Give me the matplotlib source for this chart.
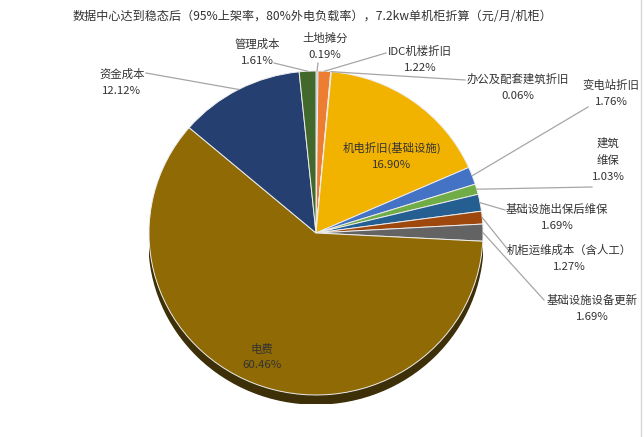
import numpy as np
import matplotlib
matplotlib.use("Agg")
import matplotlib.pyplot as plt
from matplotlib.patches import Ellipse

plt.rcParams['font.family'] = ['Noto Sans CJK SC', 'DejaVu Sans']

# cost items, clockwise from 12 o'clock
names = ["土地摊分", "IDC机楼折旧", "办公及配套建筑折旧", "机电折旧(基础设施)", "变电站折旧",
         "建筑\n维保", "基础设施出保后维保", "机柜运维成本（含人工）", "基础设施设备更新",
         "电费", "资金成本", "管理成本"]
shares = [0.19, 1.22, 0.06, 16.90, 1.76, 1.03, 1.69, 1.27, 1.69, 60.46, 12.12, 1.61]
colors = ['#5B9BD5', '#ED7D31', '#A5A5A5', '#F2B200', '#4472C4', '#70AD47',
          '#255E91', '#9E480E', '#636363', '#8F6A05', '#243F70', '#43682B']

title = "数据中心达到稳态后（95%上架率，80%外电负载率），7.2kw单机柜折算（元/月/机柜）"

# label block centres (px) and leader line ends (None = label inside slice)
label_xy = [(325, 46), (420, 59), (518, 87), (392, 156), (611, 93), (608, 160),
            (557, 217), (569, 258), (592, 308), (262, 357), (122, 82), (257, 52)]
line_end = [(318, 63), (386, 53), (465, 80), None, (588, 107), (592, 187),
            (505, 210), (509, 251), (544, 300), None, (146, 73), (274, 63)]

W, H = 644, 437
cx, cy, rx, ry = 316, 233, 167, 162

fig = plt.figure(figsize=(W / 100, H / 100), dpi=100)

# shadow under the pie
sh = fig.add_axes([(cx - rx) / W, (H - cy - ry - 9) / H, 2 * rx / W, 2 * ry / H])
sh.add_patch(Ellipse((0, 0), 2, 2, color='#3d2f08'))
sh.set_xlim(-1, 1)
sh.set_ylim(-1, 1)
sh.axis('off')

ax = fig.add_axes([(cx - rx) / W, (H - cy - ry) / H, 2 * rx / W, 2 * ry / H])
wedges, _ = ax.pie(shares, colors=colors, startangle=90, counterclock=False, radius=1,
                   wedgeprops=dict(edgecolor='#eeeeee', linewidth=0.7))
ax.set_aspect('auto')
ax.set_xlim(-1, 1)
ax.set_ylim(-1, 1)

ov = fig.add_axes([0, 0, 1, 1], facecolor='none')
ov.set_xlim(0, W)
ov.set_ylim(H, 0)
ov.axis('off')

to_px = ax.transData + ov.transData.inverted()
for w, name, v, (tx, ty), end in zip(wedges, names, shares, label_xy, line_end):
    txt = "%s\n%.2f%%" % (name, v)
    ov.text(tx, ty, txt, ha='center', va='center', fontsize=8.2, color='#333333',
            linespacing=1.75)
    if end is not None:
        mid = np.deg2rad((w.theta1 + w.theta2) / 2)
        sx, sy = to_px.transform((np.cos(mid), np.sin(mid)))
        ov.plot([sx, end[0]], [sy, end[1]], color='#a6a6a6', lw=0.9)

ov.text(312, 17, title, ha='center', va='center', fontsize=8.7, color='#333333')
ov.plot([641, 641], [0, H], color='#d9d9d9', lw=1)

fig.savefig("out.png", dpi=100)
